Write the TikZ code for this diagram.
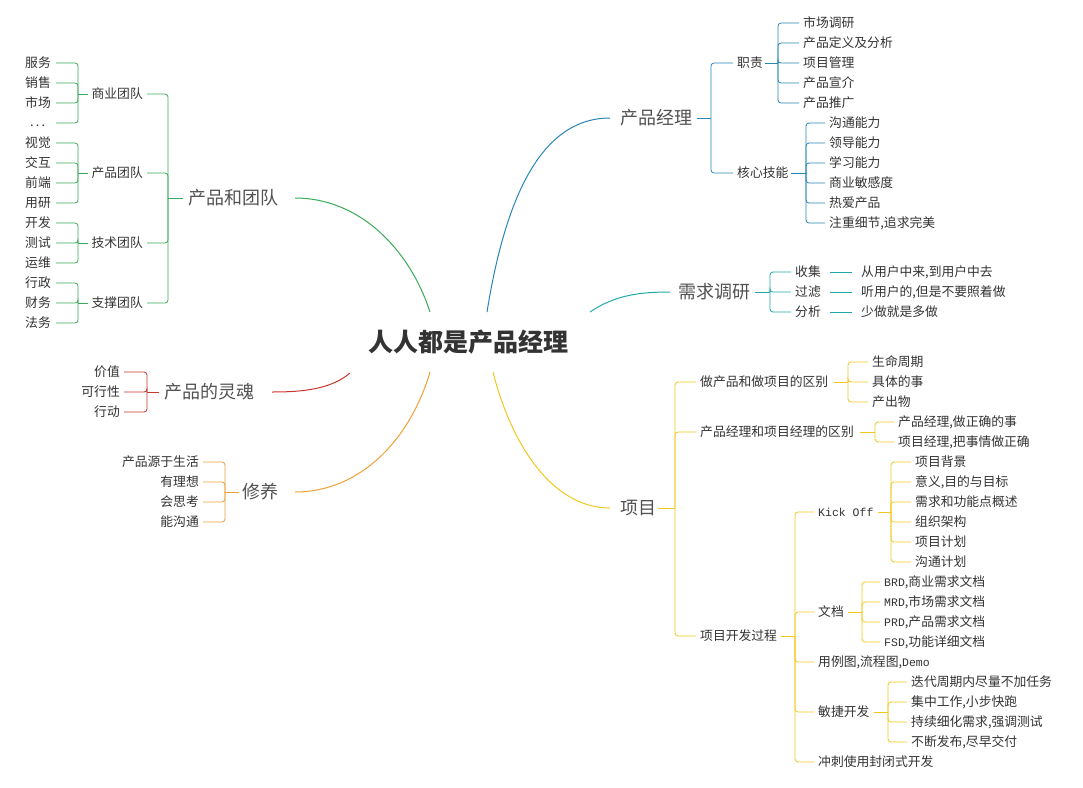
\documentclass[tikz,border=0pt]{standalone}
\usepackage{fontspec}
\setmainfont{Noto Sans CJK SC}
\newfontfamily\monof{Liberation Mono}
\definecolor{cB}{HTML}{2A86B8}
\definecolor{cT}{HTML}{22A8A8}
\definecolor{cG}{HTML}{3AAA5A}
\definecolor{cR}{HTML}{C8372D}
\definecolor{cO}{HTML}{F0A035}
\definecolor{cY}{HTML}{F2C81E}
\definecolor{tx}{HTML}{333333}
\newcommand\brk[6]{\draw[#1,line width=0.8pt] (#2,#3)--(#4,#3);
  \foreach \yy in {#6} \draw[#1,line width=0.8pt,rounded corners=3] (#4,#3) |- (#5,\yy);}
\tikzset{
 t/.style={anchor=west,inner sep=0,text=tx,font=\fontsize{12.8}{14}\selectfont},
 tl/.style={anchor=east,inner sep=0,text=tx,font=\fontsize{12.8}{14}\selectfont},
 big/.style={inner sep=0,text=tx!85,font=\fontsize{18}{20}\selectfont},
 cur/.style={line width=1pt}}
\begin{document}
\begin{tikzpicture}[x=1pt,y=-1pt]
\useasboundingbox[fill=white] (0,0) rectangle (1083,787);
% center
\node[inner sep=0,text=tx,font=\fontsize{25}{27}\selectfont\bfseries] (c) at (468,342) {人人都是产品经理};
% main branches
\node[big,anchor=west] (pm) at (620,118) {产品经理};
\node[big,anchor=west] (xq) at (678,292) {需求调研};
\node[big,anchor=east] (td) at (279,198) {产品和团队};
\node[big,anchor=east] (lh) at (255,392) {产品的灵魂};
\node[big,anchor=east] (xy) at (279,492) {修养};
\node[big,anchor=west] (xm) at (620,508) {项目};
\draw[cB,cur] (487,312) .. controls (505,200) and (540,118) .. (610,118);
\draw[cT,cur] (590,312) .. controls (615,295) and (640,292) .. (670,292);
\draw[cG,cur] (430,312) .. controls (410,250) and (360,198) .. (295,198);
\draw[cR,cur] (350,373) .. controls (330,390) and (300,392) .. (272,392);
\draw[cO,cur] (430,372) .. controls (410,440) and (360,492) .. (295,492);
\draw[cY,cur] (493,372) .. controls (510,440) and (550,508) .. (610,508);
% 产品经理
\brk{cB}{697}{118}{711}{733}{63,173}
\node[t] at (737,63) {职责};
\node[t] at (737,173) {核心技能};
\brk{cB}{765}{63}{778}{799}{23,43,63,83,103}
\foreach \y/\s in {23/市场调研,43/产品定义及分析,63/项目管理,83/产品宣介,103/产品推广}
  \node[t] at (803,\y) {\s};
\brk{cB}{791}{173}{806}{825}{123,143,163,183,203,223}
\foreach \y/\s in {123/沟通能力,143/领导能力,163/学习能力,183/商业敏感度,203/热爱产品,223/{注重细节,追求完美}}
  \node[t] at (829,\y) {\s};
% 需求调研
\brk{cT}{755}{292}{770}{791}{272,292,312}
\foreach \y/\s/\r in {272/收集/{从用户中来,到用户中去},292/过滤/{听用户的,但是不要照着做},312/分析/少做就是多做}{
  \node[t] at (795,\y) {\s};
  \draw[cT,line width=0.8pt] (830,\y)--(852,\y);
  \node[t] at (861,\y) {\r};}
% 产品和团队
\brk{cG}{183}{198}{168}{147}{94,173,243,303}
\foreach \y/\s in {94/商业团队,173/产品团队,243/技术团队,303/支撑团队}
  \node[tl] at (143,\y) {\s};
\brk{cG}{88}{94}{78}{56}{63,83,103,123}
\brk{cG}{88}{173}{78}{56}{143,163,183,203}
\brk{cG}{88}{243}{78}{56}{223,243,263}
\brk{cG}{88}{303}{78}{56}{283,303,323}
\foreach \y/\s in {63/服务,83/销售,103/市场,143/视觉,163/交互,183/前端,203/用研,223/开发,243/测试,263/运维,283/行政,303/财务,323/法务}
  \node[t] at (25,\y) {\s};
\node[t] at (30,126) {.\,.\,.};
% 灵魂
\brk{cR}{159}{392}{147}{124}{372,392,412}
\foreach \y/\s in {372/价值,392/可行性,412/行动} \node[tl] at (120,\y) {\s};
% 修养
\brk{cO}{239}{492}{225}{203}{462,482,502,522}
\foreach \y/\s in {462/产品源于生活,482/有理想,502/会思考,522/能沟通} \node[tl] at (199,\y) {\s};
% 项目
\brk{cY}{658}{508}{675}{696}{382,432,636}
\node[t] at (700,382) {做产品和做项目的区别};
\node[t] at (700,432) {产品经理和项目经理的区别};
\node[t] at (700,636) {项目开发过程};
\brk{cY}{834}{382}{848}{868}{362,382,402}
\foreach \y/\s in {362/生命周期,382/具体的事,402/产出物} \node[t] at (872,\y) {\s};
\brk{cY}{860}{432}{875}{894}{422,442}
\node[t] at (898,422) {产品经理,做正确的事};
\node[t] at (898,442) {项目经理,把事情做正确};
\brk{cY}{781}{636}{795}{814}{512,612,662,712,762}
\node[t,font=\monof\fontsize{11.5}{13}\selectfont] at (818,512) {Kick Off};
\node[t] at (818,612) {文档};
\node[t] at (818,662) {用例图,流程图,{\monof\fontsize{11.5}{13}\selectfont Demo}};
\node[t] at (818,712) {敏捷开发};
\node[t] at (818,762) {冲刺使用封闭式开发};
\brk{cY}{878}{512}{891}{911}{462,482,502,522,542,562}
\foreach \y/\s in {462/项目背景,482/{意义,目的与目标},502/需求和功能点概述,522/组织架构,542/项目计划,562/沟通计划} \node[t] at (915,\y) {\s};
\brk{cY}{848}{612}{862}{880}{582,602,622,642}
\foreach \y/\s/\m in {582/BRD/商业需求文档,602/MRD/市场需求文档,622/PRD/产品需求文档,642/FSD/功能详细文档} \node[t] at (884,\y) {{\monof\fontsize{11.5}{13}\selectfont\s},\m};
\brk{cY}{874}{712}{888}{907}{682,702,722,742}
\foreach \y/\s in {682/迭代周期内尽量不加任务,702/{集中工作,小步快跑},722/{持续细化需求,强调测试},742/{不断发布,尽早交付}} \node[t] at (911,\y) {\s};
\end{tikzpicture}
\end{document}
